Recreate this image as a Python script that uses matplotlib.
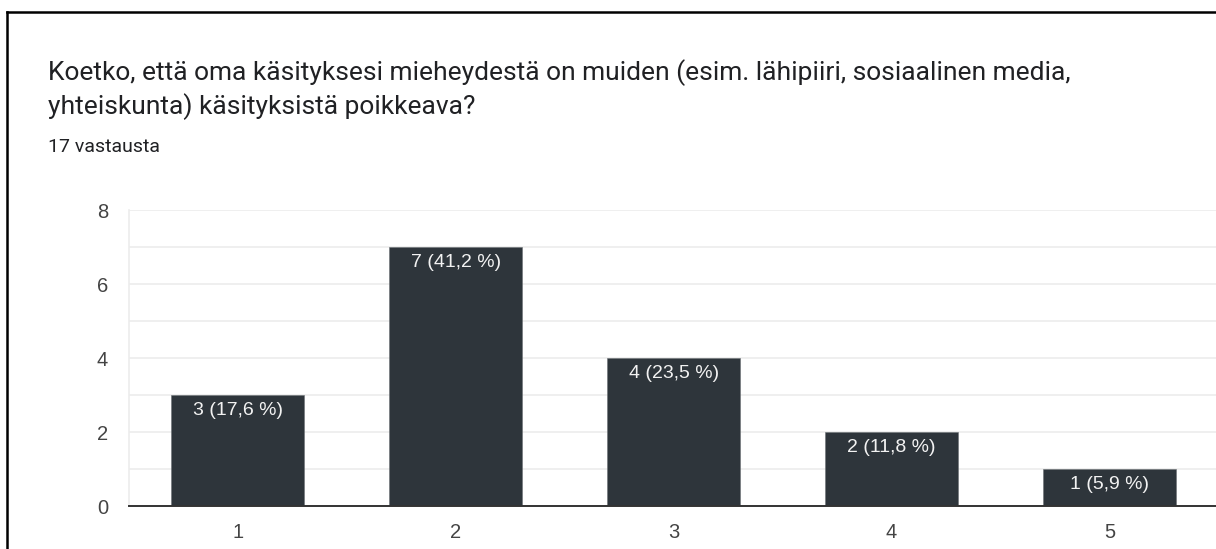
import matplotlib.pyplot as plt
from matplotlib.lines import Line2D
from matplotlib.ticker import MultipleLocator

categories = ['1', '2', '3', '4', '5']
counts = [3, 7, 4, 2, 1]
percents = ['17,6', '41,2', '23,5', '11,8', '5,9']
title_lines = ['Koetko, että oma käsityksesi mieheydestä on muiden (esim. lähipiiri, sosiaalinen media,',
               'yhteiskunta) käsityksistä poikkeava?']
subtitle = '17 vastausta'

plt.rcParams['font.family'] = ['Roboto', 'DejaVu Sans']
chart_font = ['Liberation Sans', 'DejaVu Sans']

W, H = 1216, 549
fig = plt.figure(figsize=(W / 100, H / 100), dpi=100)
fig.patch.set_facecolor('white')

# frame around the card (cropped on right and bottom)
fig.add_artist(Line2D([7 / W, 7 / W], [0, 1 - 12 / H], transform=fig.transFigure, color='black', lw=1.8))
fig.add_artist(Line2D([7 / W, 1], [1 - 12 / H, 1 - 12 / H], transform=fig.transFigure, color='black', lw=1.8))

fig.text(48 / W, 1 - 80 / H, title_lines[0], fontsize=19, color='#202124', va='baseline')
fig.text(48 / W, 1 - 114 / H, title_lines[1], fontsize=19, color='#202124', va='baseline')
fig.text(48 / W, 1 - 152 / H, subtitle, fontsize=14, color='#202124', va='baseline')

ax = fig.add_axes([129 / W, 1 - 506 / H, 1 - 129 / W + 0.002, (506 - 210) / H])
x = list(range(1, len(categories) + 1))
bars = ax.bar(x, counts, width=0.61, color='#2e353b', edgecolor='#6b7175', linewidth=0.4, zorder=3)

for xi, c, p in zip(x, counts, percents):
    ax.annotate(f'{c} ({p} %)', xy=(xi, c), xytext=(0, -5), textcoords='offset points',
                ha='center', va='top', color='#f2f2f2', fontsize=14, family=chart_font, zorder=4)

ax.set_xlim(0.5, 5.5)
ax.set_ylim(0, 8)
ax.yaxis.set_major_locator(MultipleLocator(2))
ax.yaxis.set_minor_locator(MultipleLocator(1))
ax.set_xticks(x)
ax.set_xticklabels(categories)
for lab in ax.get_xticklabels() + ax.get_yticklabels():
    lab.set_family(chart_font)

ax.grid(axis='y', which='both', color='#ececec', lw=1.2, zorder=0)
for s in ['top', 'right']:
    ax.spines[s].set_visible(False)
ax.spines['left'].set_color('#ececec')
ax.spines['left'].set_linewidth(1.2)
ax.spines['bottom'].set_color('#333333')
ax.spines['bottom'].set_linewidth(1.4)
ax.spines['bottom'].set_zorder(5)

ax.tick_params(axis='y', which='both', length=0, pad=15, labelsize=14.5, labelcolor='#444444')
ax.tick_params(axis='x', length=0, pad=12, labelsize=14.5, labelcolor='#444444')

fig.savefig('out.png', dpi=100)
